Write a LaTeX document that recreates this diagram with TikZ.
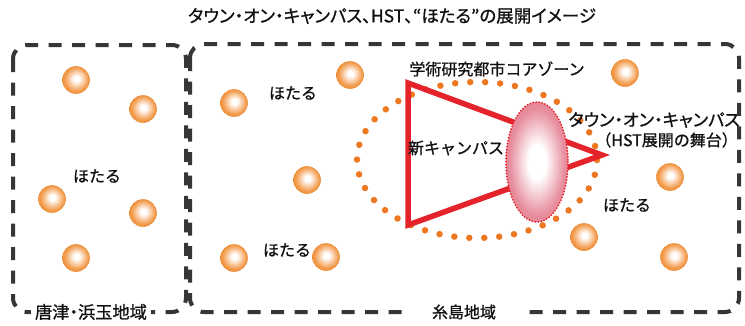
\documentclass[tikz,border=0pt]{standalone}
\usepackage{fontspec}
\newfontfamily\jp[FakeBold=0.9]{Noto Sans CJK JP}
\newfontfamily\jpp[FakeBold=0.9,RawFeature=+palt]{Noto Sans CJK JP}
\definecolor{dashgray}{HTML}{363636}
\definecolor{dotorange}{HTML}{EE7722}
\definecolor{trired}{HTML}{E5232A}
\definecolor{orbC}{HTML}{F39A4A}
\definecolor{orbD}{HTML}{E8862A}
\definecolor{pinkD}{HTML}{D8445E}
\definecolor{txt}{HTML}{111111}
\pgfdeclareradialshading{orbshade}{\pgfpoint{1bp}{3bp}}{color(0bp)=(white); color(5bp)=(white); color(22bp)=(orbC); color(40bp)=(orbD); color(50bp)=(orbD!85!black)}
\pgfdeclareradialshading{pinkshade}{\pgfpoint{0bp}{0bp}}{color(0bp)=(white); color(7bp)=(white); color(22bp)=(pinkD!60); color(50bp)=(pinkD)}
\begin{document}
\begin{tikzpicture}[x=1pt,y=-1pt,
  region/.style={draw=dashgray, line width=4pt, dash pattern=on 13pt off 10.5pt, rounded corners=14pt},
  orb/.style={circle, minimum size=27pt, inner sep=0pt, shading=orbshade, draw=orbD, line width=0.5pt},
  lbl/.style={font=\jp\fontsize{16}{18}\selectfont, text=txt, inner sep=0pt},
  plbl/.style={font=\jpp\fontsize{17.2}{19}\selectfont, text=txt, inner sep=0pt},
  redline/.style={draw=trired, line width=5.5pt, line join=miter},
  orangedots/.style={draw=dotorange, line width=6.5pt, line cap=round, dash pattern=on 0pt off 15pt}
]
\useasboundingbox (0,0) rectangle (745,325);
\fill[white] (0,0) rectangle (745,325);

% title
\node[plbl, font=\jpp\fontsize{17.5}{19}\selectfont] (title) at (392,16) {タウン・オン・キャンパス、HST、“ほたる”の展開イメージ};

% regions
\draw[region] (13,45) rectangle (186,312);
\draw[region] (190,44) rectangle (739,312);

% firefly orbs, left region
\node[orb] (o1) at (76,80) {};
\node[orb] (o2) at (143,109) {};
\node[orb] (o3) at (52,199) {};
\node[orb] (o4) at (143,213) {};
\node[orb] (o5) at (76,258) {};
% firefly orbs, right region
\node[orb] (o6) at (234,103) {};
\node[orb] (o7) at (350,75) {};
\node[orb] (o8) at (307,180) {};
\node[orb] (o9) at (234,258) {};
\node[orb] (o10) at (326,257) {};
\node[orb] (o11) at (625,73) {};
\node[orb] (o12) at (670,177) {};
\node[orb] (o13) at (584,237) {};
\node[orb] (o14) at (674,257) {};

% core zone dotted ellipse
\draw[orangedots] (477,160) ellipse [x radius=120, y radius=78];

% campus triangle
\coordinate (t1) at (408,83);
\coordinate (t2) at (408,225);
\coordinate (t3) at (602,155);
\draw[redline] (t1) -- (t2) -- (t3) -- cycle;

% town-on-campus ellipse
\path[shading=pinkshade] (537,162) ellipse [x radius=31, y radius=60];
\draw[trired, line width=2pt, dash pattern=on 0pt off 3pt, line cap=round] (537,162) ellipse [x radius=31, y radius=60];

% labels
\node[lbl] (h1) at (97,176) {ほたる};
\node[lbl] (h2) at (293,93) {ほたる};
\node[lbl] (h3) at (287,250) {ほたる};
\node[lbl] (h4) at (627,205) {ほたる};
\node[lbl] (core) at (497,69) {学術研究都市コアゾーン};
\node[lbl] (newc) at (456,148) {新キャンパス};
\node[plbl, anchor=east] (toc1) at (740,120) {タウン・オン・キャンパス};
\node[lbl, anchor=east] (toc2) at (738,140) {（HST展開の舞台）};

\node[plbl, fill=white, inner xsep=4pt, inner ysep=3pt] (karatsu) at (91,312) {唐津・浜玉地域};
\node[lbl, fill=white, inner xsep=27pt, inner ysep=3pt] (itoshima) at (464,312) {糸島地域};
\end{tikzpicture}
\end{document}
